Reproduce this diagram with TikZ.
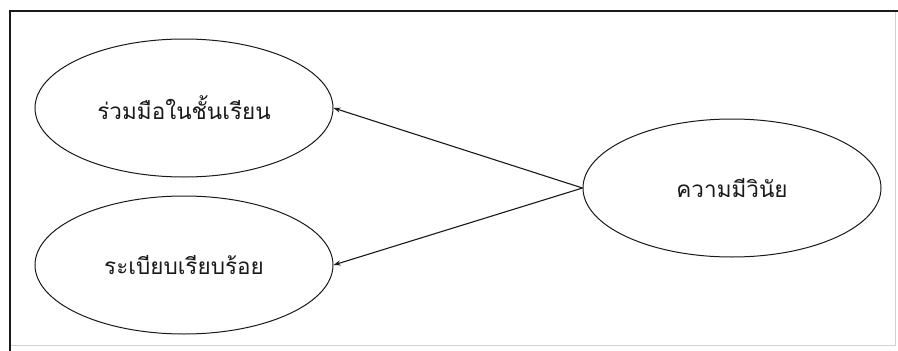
\documentclass[tikz,border=0pt]{standalone}
\usepackage{fontspec}
\newfontfamily\thaifont[Script=Thai]{Loma}
\usetikzlibrary{arrows.meta,shapes.geometric}
\definecolor{ink}{RGB}{25,25,25}
\definecolor{framegray}{RGB}{210,210,210}
\tikzset{
  oval/.style = {ellipse, draw=ink, line width=1pt, minimum width=298pt,
                 minimum height=138pt, inner sep=0pt, text=ink,
                 font=\thaifont\fontsize{22.5}{26}\selectfont},
  link/.style = {-{Stealth[length=7pt,width=5pt]}, draw=ink, line width=1.1pt},
}
\begin{document}
\begin{tikzpicture}[x=1pt,y=-1pt]
\useasboundingbox (0,0) rectangle (898,351);
% frame
\draw[framegray] (10,345) -- (895,345) -- (895,11);
\draw[ink, line width=1.1pt] (10,351) -- (10,11) -- (898,11);
% ovals
\node[oval] (coop) at (184,108) {ร่วมมือในชั้นเรียน};
\node[oval] (order) at (184,265) {ระเบียบเรียบร้อย};
\node[oval] (disc) at (732,188) {ความมีวินัย};
% links
\draw[link] (disc.west) -- (coop.east);
\draw[link] (disc.west) -- (order.east);
\end{tikzpicture}
\end{document}
